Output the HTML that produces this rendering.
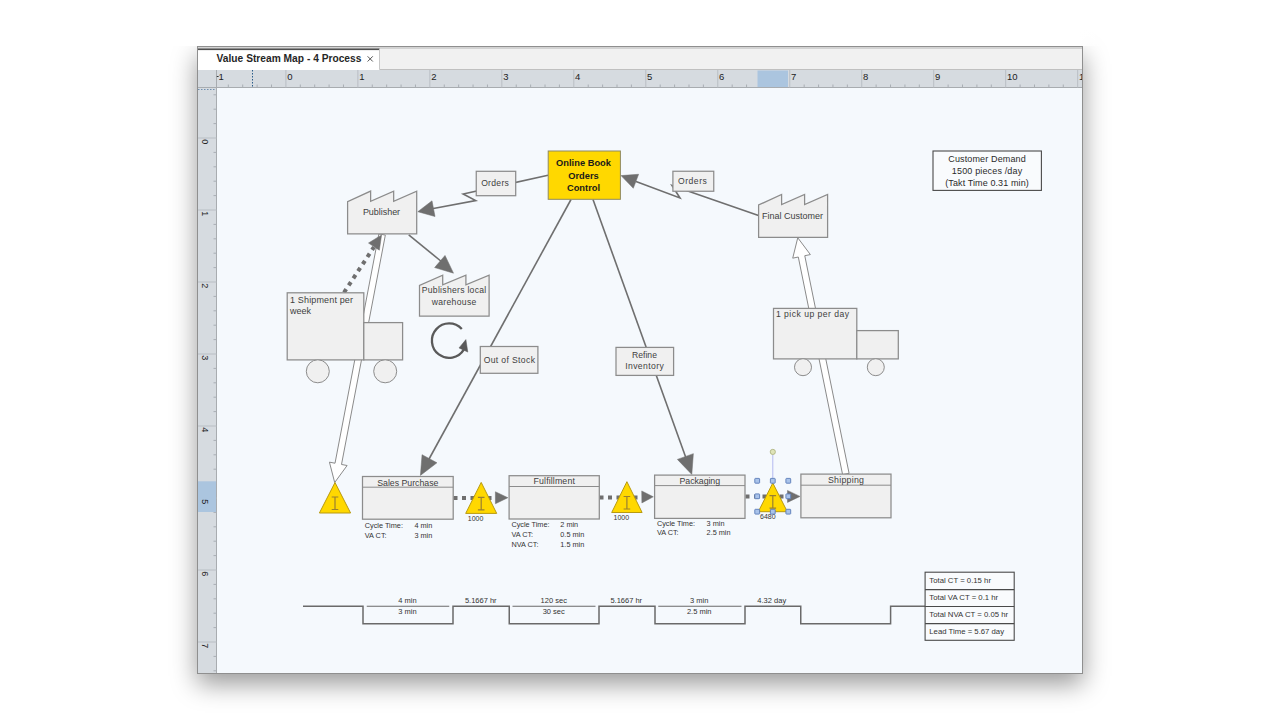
<!DOCTYPE html>
<html><head><meta charset="utf-8">
<style>
html,body{margin:0;padding:0;background:#ffffff;font-family:"Liberation Sans", sans-serif;width:1280px;height:720px;overflow:hidden}
#win{position:absolute;left:197px;top:46px;width:884px;height:626px;border:1px solid #8f8f8f;box-shadow:0 10px 24px rgba(0,0,0,0.4);background:#f5f9fd}
svg{position:absolute;left:0;top:0}
</style></head><body>
<div id="win"></div>
<div style="position:absolute;left:0;top:0;width:1280px;height:46px;background:linear-gradient(to right,#fff 0,#fff 1080px,rgba(255,255,255,0) 1110px)"></div>
<svg width="1280" height="720" viewBox="0 0 1280 720" font-family="&quot;Liberation Sans&quot;, sans-serif">
<!-- tab bar -->
<rect x="198" y="47" width="884" height="22.5" fill="#f1f1f1"/>
<rect x="198" y="47" width="884" height="2" fill="#d3d3d3"/>
<rect x="198" y="49" width="181.5" height="21" fill="#ffffff"/>
<rect x="198" y="48.5" width="181.5" height="1.6" fill="#505050"/>
<line x1="379.5" y1="49" x2="379.5" y2="69.5" stroke="#c8c8c8" stroke-width="1"/>
<line x1="379.5" y1="69.5" x2="1082" y2="69.5" stroke="#c0c0c0" stroke-width="1"/>
<text x="216.6" y="61.7" font-size="10.2" font-weight="bold" fill="#262626" textLength="144.8" lengthAdjust="spacing">Value Stream Map - 4 Process</text>
<path d="M367.6,56.3 L372.8,61.5 M372.8,56.3 L367.6,61.5" stroke="#555" stroke-width="1"/>
<defs><clipPath id="rc"><rect x="198" y="47" width="884" height="626"/></clipPath></defs>
<g clip-path="url(#rc)">
<!-- rulers -->
<rect x="198" y="70" width="884" height="17.5" fill="#d6dbe0"/>
<rect x="198" y="70" width="18.5" height="603" fill="#d6dbe0"/>
<line x1="198" y1="87.5" x2="1082" y2="87.5" stroke="#a8acb0" stroke-width="1"/>
<line x1="216.5" y1="70" x2="216.5" y2="673" stroke="#a8acb0" stroke-width="1"/>
<line x1="216.8" y1="76.5" x2="218.6" y2="76.5" stroke="#333" stroke-width="1"/>
<line x1="228.32" y1="84.5" x2="228.32" y2="87.5" stroke="#a9aeb4" stroke-width="1"/>
<line x1="242.71" y1="84.5" x2="242.71" y2="87.5" stroke="#a9aeb4" stroke-width="1"/>
<line x1="257.11" y1="84.5" x2="257.11" y2="87.5" stroke="#a9aeb4" stroke-width="1"/>
<line x1="271.50" y1="84.5" x2="271.50" y2="87.5" stroke="#a9aeb4" stroke-width="1"/>
<line x1="285.90" y1="70" x2="285.90" y2="87.5" stroke="#b9bec4" stroke-width="1"/>
<line x1="300.30" y1="84.5" x2="300.30" y2="87.5" stroke="#a9aeb4" stroke-width="1"/>
<line x1="314.69" y1="84.5" x2="314.69" y2="87.5" stroke="#a9aeb4" stroke-width="1"/>
<line x1="329.09" y1="84.5" x2="329.09" y2="87.5" stroke="#a9aeb4" stroke-width="1"/>
<line x1="343.48" y1="84.5" x2="343.48" y2="87.5" stroke="#a9aeb4" stroke-width="1"/>
<line x1="357.88" y1="70" x2="357.88" y2="87.5" stroke="#b9bec4" stroke-width="1"/>
<line x1="372.28" y1="84.5" x2="372.28" y2="87.5" stroke="#a9aeb4" stroke-width="1"/>
<line x1="386.67" y1="84.5" x2="386.67" y2="87.5" stroke="#a9aeb4" stroke-width="1"/>
<line x1="401.07" y1="84.5" x2="401.07" y2="87.5" stroke="#a9aeb4" stroke-width="1"/>
<line x1="415.46" y1="84.5" x2="415.46" y2="87.5" stroke="#a9aeb4" stroke-width="1"/>
<line x1="429.86" y1="70" x2="429.86" y2="87.5" stroke="#b9bec4" stroke-width="1"/>
<line x1="444.26" y1="84.5" x2="444.26" y2="87.5" stroke="#a9aeb4" stroke-width="1"/>
<line x1="458.65" y1="84.5" x2="458.65" y2="87.5" stroke="#a9aeb4" stroke-width="1"/>
<line x1="473.05" y1="84.5" x2="473.05" y2="87.5" stroke="#a9aeb4" stroke-width="1"/>
<line x1="487.44" y1="84.5" x2="487.44" y2="87.5" stroke="#a9aeb4" stroke-width="1"/>
<line x1="501.84" y1="70" x2="501.84" y2="87.5" stroke="#b9bec4" stroke-width="1"/>
<line x1="516.24" y1="84.5" x2="516.24" y2="87.5" stroke="#a9aeb4" stroke-width="1"/>
<line x1="530.63" y1="84.5" x2="530.63" y2="87.5" stroke="#a9aeb4" stroke-width="1"/>
<line x1="545.03" y1="84.5" x2="545.03" y2="87.5" stroke="#a9aeb4" stroke-width="1"/>
<line x1="559.42" y1="84.5" x2="559.42" y2="87.5" stroke="#a9aeb4" stroke-width="1"/>
<line x1="573.82" y1="70" x2="573.82" y2="87.5" stroke="#b9bec4" stroke-width="1"/>
<line x1="588.22" y1="84.5" x2="588.22" y2="87.5" stroke="#a9aeb4" stroke-width="1"/>
<line x1="602.61" y1="84.5" x2="602.61" y2="87.5" stroke="#a9aeb4" stroke-width="1"/>
<line x1="617.01" y1="84.5" x2="617.01" y2="87.5" stroke="#a9aeb4" stroke-width="1"/>
<line x1="631.40" y1="84.5" x2="631.40" y2="87.5" stroke="#a9aeb4" stroke-width="1"/>
<line x1="645.80" y1="70" x2="645.80" y2="87.5" stroke="#b9bec4" stroke-width="1"/>
<line x1="660.20" y1="84.5" x2="660.20" y2="87.5" stroke="#a9aeb4" stroke-width="1"/>
<line x1="674.59" y1="84.5" x2="674.59" y2="87.5" stroke="#a9aeb4" stroke-width="1"/>
<line x1="688.99" y1="84.5" x2="688.99" y2="87.5" stroke="#a9aeb4" stroke-width="1"/>
<line x1="703.38" y1="84.5" x2="703.38" y2="87.5" stroke="#a9aeb4" stroke-width="1"/>
<line x1="717.78" y1="70" x2="717.78" y2="87.5" stroke="#b9bec4" stroke-width="1"/>
<line x1="732.18" y1="84.5" x2="732.18" y2="87.5" stroke="#a9aeb4" stroke-width="1"/>
<line x1="746.57" y1="84.5" x2="746.57" y2="87.5" stroke="#a9aeb4" stroke-width="1"/>
<line x1="760.97" y1="84.5" x2="760.97" y2="87.5" stroke="#a9aeb4" stroke-width="1"/>
<line x1="775.36" y1="84.5" x2="775.36" y2="87.5" stroke="#a9aeb4" stroke-width="1"/>
<line x1="789.76" y1="70" x2="789.76" y2="87.5" stroke="#b9bec4" stroke-width="1"/>
<line x1="804.16" y1="84.5" x2="804.16" y2="87.5" stroke="#a9aeb4" stroke-width="1"/>
<line x1="818.55" y1="84.5" x2="818.55" y2="87.5" stroke="#a9aeb4" stroke-width="1"/>
<line x1="832.95" y1="84.5" x2="832.95" y2="87.5" stroke="#a9aeb4" stroke-width="1"/>
<line x1="847.34" y1="84.5" x2="847.34" y2="87.5" stroke="#a9aeb4" stroke-width="1"/>
<line x1="861.74" y1="70" x2="861.74" y2="87.5" stroke="#b9bec4" stroke-width="1"/>
<line x1="876.14" y1="84.5" x2="876.14" y2="87.5" stroke="#a9aeb4" stroke-width="1"/>
<line x1="890.53" y1="84.5" x2="890.53" y2="87.5" stroke="#a9aeb4" stroke-width="1"/>
<line x1="904.93" y1="84.5" x2="904.93" y2="87.5" stroke="#a9aeb4" stroke-width="1"/>
<line x1="919.32" y1="84.5" x2="919.32" y2="87.5" stroke="#a9aeb4" stroke-width="1"/>
<line x1="933.72" y1="70" x2="933.72" y2="87.5" stroke="#b9bec4" stroke-width="1"/>
<line x1="948.12" y1="84.5" x2="948.12" y2="87.5" stroke="#a9aeb4" stroke-width="1"/>
<line x1="962.51" y1="84.5" x2="962.51" y2="87.5" stroke="#a9aeb4" stroke-width="1"/>
<line x1="976.91" y1="84.5" x2="976.91" y2="87.5" stroke="#a9aeb4" stroke-width="1"/>
<line x1="991.30" y1="84.5" x2="991.30" y2="87.5" stroke="#a9aeb4" stroke-width="1"/>
<line x1="1005.70" y1="70" x2="1005.70" y2="87.5" stroke="#b9bec4" stroke-width="1"/>
<line x1="1020.10" y1="84.5" x2="1020.10" y2="87.5" stroke="#a9aeb4" stroke-width="1"/>
<line x1="1034.49" y1="84.5" x2="1034.49" y2="87.5" stroke="#a9aeb4" stroke-width="1"/>
<line x1="1048.89" y1="84.5" x2="1048.89" y2="87.5" stroke="#a9aeb4" stroke-width="1"/>
<line x1="1063.28" y1="84.5" x2="1063.28" y2="87.5" stroke="#a9aeb4" stroke-width="1"/>
<line x1="1077.68" y1="70" x2="1077.68" y2="87.5" stroke="#b9bec4" stroke-width="1"/>
<line x1="252.5" y1="70" x2="252.5" y2="87.5" stroke="#2b5c8a" stroke-width="1" stroke-dasharray="1.5 1.5"/>
<line x1="213.5" y1="94.80" x2="216.5" y2="94.80" stroke="#a9aeb4" stroke-width="1"/>
<line x1="213.5" y1="109.20" x2="216.5" y2="109.20" stroke="#a9aeb4" stroke-width="1"/>
<line x1="213.5" y1="123.60" x2="216.5" y2="123.60" stroke="#a9aeb4" stroke-width="1"/>
<line x1="198" y1="138.00" x2="216.5" y2="138.00" stroke="#b9bec4" stroke-width="1"/>
<line x1="213.5" y1="152.40" x2="216.5" y2="152.40" stroke="#a9aeb4" stroke-width="1"/>
<line x1="213.5" y1="166.80" x2="216.5" y2="166.80" stroke="#a9aeb4" stroke-width="1"/>
<line x1="213.5" y1="181.20" x2="216.5" y2="181.20" stroke="#a9aeb4" stroke-width="1"/>
<line x1="213.5" y1="195.60" x2="216.5" y2="195.60" stroke="#a9aeb4" stroke-width="1"/>
<line x1="198" y1="210.00" x2="216.5" y2="210.00" stroke="#b9bec4" stroke-width="1"/>
<line x1="213.5" y1="224.40" x2="216.5" y2="224.40" stroke="#a9aeb4" stroke-width="1"/>
<line x1="213.5" y1="238.80" x2="216.5" y2="238.80" stroke="#a9aeb4" stroke-width="1"/>
<line x1="213.5" y1="253.20" x2="216.5" y2="253.20" stroke="#a9aeb4" stroke-width="1"/>
<line x1="213.5" y1="267.60" x2="216.5" y2="267.60" stroke="#a9aeb4" stroke-width="1"/>
<line x1="198" y1="282.00" x2="216.5" y2="282.00" stroke="#b9bec4" stroke-width="1"/>
<line x1="213.5" y1="296.40" x2="216.5" y2="296.40" stroke="#a9aeb4" stroke-width="1"/>
<line x1="213.5" y1="310.80" x2="216.5" y2="310.80" stroke="#a9aeb4" stroke-width="1"/>
<line x1="213.5" y1="325.20" x2="216.5" y2="325.20" stroke="#a9aeb4" stroke-width="1"/>
<line x1="213.5" y1="339.60" x2="216.5" y2="339.60" stroke="#a9aeb4" stroke-width="1"/>
<line x1="198" y1="354.00" x2="216.5" y2="354.00" stroke="#b9bec4" stroke-width="1"/>
<line x1="213.5" y1="368.40" x2="216.5" y2="368.40" stroke="#a9aeb4" stroke-width="1"/>
<line x1="213.5" y1="382.80" x2="216.5" y2="382.80" stroke="#a9aeb4" stroke-width="1"/>
<line x1="213.5" y1="397.20" x2="216.5" y2="397.20" stroke="#a9aeb4" stroke-width="1"/>
<line x1="213.5" y1="411.60" x2="216.5" y2="411.60" stroke="#a9aeb4" stroke-width="1"/>
<line x1="198" y1="426.00" x2="216.5" y2="426.00" stroke="#b9bec4" stroke-width="1"/>
<line x1="213.5" y1="440.40" x2="216.5" y2="440.40" stroke="#a9aeb4" stroke-width="1"/>
<line x1="213.5" y1="454.80" x2="216.5" y2="454.80" stroke="#a9aeb4" stroke-width="1"/>
<line x1="213.5" y1="469.20" x2="216.5" y2="469.20" stroke="#a9aeb4" stroke-width="1"/>
<line x1="213.5" y1="483.60" x2="216.5" y2="483.60" stroke="#a9aeb4" stroke-width="1"/>
<line x1="198" y1="498.00" x2="216.5" y2="498.00" stroke="#b9bec4" stroke-width="1"/>
<line x1="213.5" y1="512.40" x2="216.5" y2="512.40" stroke="#a9aeb4" stroke-width="1"/>
<line x1="213.5" y1="526.80" x2="216.5" y2="526.80" stroke="#a9aeb4" stroke-width="1"/>
<line x1="213.5" y1="541.20" x2="216.5" y2="541.20" stroke="#a9aeb4" stroke-width="1"/>
<line x1="213.5" y1="555.60" x2="216.5" y2="555.60" stroke="#a9aeb4" stroke-width="1"/>
<line x1="198" y1="570.00" x2="216.5" y2="570.00" stroke="#b9bec4" stroke-width="1"/>
<line x1="213.5" y1="584.40" x2="216.5" y2="584.40" stroke="#a9aeb4" stroke-width="1"/>
<line x1="213.5" y1="598.80" x2="216.5" y2="598.80" stroke="#a9aeb4" stroke-width="1"/>
<line x1="213.5" y1="613.20" x2="216.5" y2="613.20" stroke="#a9aeb4" stroke-width="1"/>
<line x1="213.5" y1="627.60" x2="216.5" y2="627.60" stroke="#a9aeb4" stroke-width="1"/>
<line x1="198" y1="642.00" x2="216.5" y2="642.00" stroke="#b9bec4" stroke-width="1"/>
<line x1="213.5" y1="656.40" x2="216.5" y2="656.40" stroke="#a9aeb4" stroke-width="1"/>
<line x1="213.5" y1="670.80" x2="216.5" y2="670.80" stroke="#a9aeb4" stroke-width="1"/>
<line x1="198" y1="89.5" x2="216" y2="89.5" stroke="#6f8fb0" stroke-width="1.2" stroke-dasharray="1.5 1.5"/>
<rect x="757.5" y="70.5" width="30.5" height="16.5" fill="#abc5df"/>
<rect x="198" y="481.3" width="18" height="30.7" fill="#abc5df"/>
<text x="218.6" y="79.6" font-size="9.5" fill="#222">1</text>
<text x="287.20" y="79.6" font-size="9.5" fill="#222">0</text>
<text x="359.18" y="79.6" font-size="9.5" fill="#222">1</text>
<text x="431.16" y="79.6" font-size="9.5" fill="#222">2</text>
<text x="503.14" y="79.6" font-size="9.5" fill="#222">3</text>
<text x="575.12" y="79.6" font-size="9.5" fill="#222">4</text>
<text x="647.10" y="79.6" font-size="9.5" fill="#222">5</text>
<text x="719.08" y="79.6" font-size="9.5" fill="#222">6</text>
<text x="791.06" y="79.6" font-size="9.5" fill="#222">7</text>
<text x="863.04" y="79.6" font-size="9.5" fill="#222">8</text>
<text x="935.02" y="79.6" font-size="9.5" fill="#222">9</text>
<text x="1007.00" y="79.6" font-size="9.5" fill="#222">10</text>
<text x="1078.98" y="79.6" font-size="9.5" fill="#222">11</text>
<text transform="translate(201.5,139.20) rotate(90)" font-size="9" fill="#222">0</text>
<text transform="translate(201.5,211.20) rotate(90)" font-size="9" fill="#222">1</text>
<text transform="translate(201.5,283.20) rotate(90)" font-size="9" fill="#222">2</text>
<text transform="translate(201.5,355.20) rotate(90)" font-size="9" fill="#222">3</text>
<text transform="translate(201.5,427.20) rotate(90)" font-size="9" fill="#222">4</text>
<text transform="translate(201.5,499.20) rotate(90)" font-size="9" fill="#222">5</text>
<text transform="translate(201.5,571.20) rotate(90)" font-size="9" fill="#222">6</text>
<text transform="translate(201.5,643.20) rotate(90)" font-size="9" fill="#222">7</text>
</g>
<!-- diagram -->
<polygon points="378.86,233.88 335.03,463.22 329.43,462.15 334.70,482.50 347.11,465.53 341.51,464.46 385.34,235.12" fill="#ffffff" stroke="#8a8a8a" stroke-width="1" />
<polygon points="849.08,473.34 804.77,255.71 810.36,254.57 797.75,237.75 792.72,258.16 798.31,257.03 842.62,474.66" fill="#ffffff" stroke="#8a8a8a" stroke-width="1" />
<polyline points="571.00,199.50 428.50,460.00" fill="none" stroke="#6f6f6f" stroke-width="1.6" stroke-linejoin="miter" />
<polygon points="420.40,475.40 422.04,454.65 436.96,462.80" fill="#6f6f6f" stroke="#6f6f6f" stroke-width="0.5" />
<polyline points="593.00,199.50 686.00,458.00" fill="none" stroke="#6f6f6f" stroke-width="1.6" stroke-linejoin="miter" />
<polygon points="691.80,474.40 677.37,459.39 693.37,453.64" fill="#6f6f6f" stroke="#6f6f6f" stroke-width="0.5" />
<polyline points="548.00,175.20 463.20,194.00 475.70,200.60 432.00,208.80" fill="none" stroke="#6f6f6f" stroke-width="1.6" stroke-linejoin="miter" />
<polygon points="417.80,211.70 432.01,200.83 435.02,216.54" fill="#6f6f6f" stroke="#6f6f6f" stroke-width="0.5" />
<polyline points="758.50,215.60 672.00,185.40 680.00,198.00 636.00,181.50" fill="none" stroke="#6f6f6f" stroke-width="1.6" stroke-linejoin="miter" />
<polygon points="621.00,175.60 638.62,174.27 633.30,188.29" fill="#6f6f6f" stroke="#6f6f6f" stroke-width="0.5" />
<polyline points="408.75,234.90 442.00,262.00" fill="none" stroke="#6f6f6f" stroke-width="1.6" stroke-linejoin="miter" />
<polygon points="453.50,273.20 434.62,267.57 445.03,255.42" fill="#6f6f6f" stroke="#6f6f6f" stroke-width="0.5" />
<line x1="344" y1="292.5" x2="374" y2="247" stroke="#6f6f6f" stroke-width="4" stroke-dasharray="4 4.5"/>
<polygon points="381.60,234.90 379.35,250.17 368.48,243.04" fill="#6f6f6f" stroke="#6f6f6f" stroke-width="0.5" />
<polygon points="347.60,233.90 347.60,201.70 370.63,191.10 370.63,201.20 393.67,191.10 393.67,201.20 416.70,191.10 416.70,233.90" fill="#f0f0f0" stroke="#8c8c8c" stroke-width="1.25" />
<text x="381.5" y="215" font-size="9" text-anchor="middle" fill="#404040" font-weight="normal" textLength="37.2" lengthAdjust="spacing">Publisher</text>
<polygon points="419.50,316.20 419.50,285.40 442.70,275.10 442.70,284.90 465.90,275.10 465.90,284.90 489.10,275.10 489.10,316.20" fill="#f0f0f0" stroke="#8c8c8c" stroke-width="1.25" />
<text x="454" y="292.6" font-size="8.6" text-anchor="middle" fill="#404040" font-weight="normal" textLength="64.4" lengthAdjust="spacing">Publishers local</text>
<text x="454" y="304.5" font-size="8.6" text-anchor="middle" fill="#404040" font-weight="normal" textLength="44.6" lengthAdjust="spacing">warehouse</text>
<polygon points="758.60,237.30 758.60,205.00 781.60,194.50 781.60,204.50 804.60,194.50 804.60,204.50 827.60,194.50 827.60,237.30" fill="#f0f0f0" stroke="#8c8c8c" stroke-width="1.25" />
<text x="792.6" y="219.1" font-size="9" text-anchor="middle" fill="#404040" font-weight="normal" textLength="61" lengthAdjust="spacing">Final Customer</text>
<rect x="548.2" y="151" width="72.19999999999993" height="48.30000000000001" fill="#ffd800" stroke="#8f8a60" stroke-width="1"/>
<text x="583.5" y="166.3" font-size="9.3" text-anchor="middle" fill="#1a1a1a" font-weight="bold" textLength="55" lengthAdjust="spacing">Online Book</text>
<text x="583.5" y="178.5" font-size="9.3" text-anchor="middle" fill="#1a1a1a" font-weight="bold">Orders</text>
<text x="583.5" y="190.8" font-size="9.3" text-anchor="middle" fill="#1a1a1a" font-weight="bold">Control</text>
<rect x="476.25" y="171.3" width="39.450000000000045" height="24.399999999999977" fill="#f0f0f0" stroke="#8c8c8c" stroke-width="1.25"/>
<text x="495" y="186.2" font-size="8.6" text-anchor="middle" fill="#404040" font-weight="normal" textLength="27.7" lengthAdjust="spacing">Orders</text>
<rect x="672.9" y="171.25" width="40.85000000000002" height="20.0" fill="#f0f0f0" stroke="#8c8c8c" stroke-width="1.25"/>
<text x="692.4" y="183.8" font-size="8.6" text-anchor="middle" fill="#404040" font-weight="normal" textLength="29" lengthAdjust="spacing">Orders</text>
<rect x="480.3" y="346.5" width="57.599999999999966" height="26.80000000000001" fill="#f0f0f0" stroke="#8c8c8c" stroke-width="1.25"/>
<text x="509.3" y="363" font-size="8.6" text-anchor="middle" fill="#404040" font-weight="normal" textLength="51.3" lengthAdjust="spacing">Out of Stock</text>
<rect x="616" y="347.4" width="57.60000000000002" height="28.0" fill="#f0f0f0" stroke="#8c8c8c" stroke-width="1.25"/>
<text x="644.5" y="358.2" font-size="8.6" text-anchor="middle" fill="#404040" font-weight="normal">Refine</text>
<text x="644.5" y="369.4" font-size="8.6" text-anchor="middle" fill="#404040" font-weight="normal" textLength="38.7" lengthAdjust="spacing">Inventory</text>
<path d="M461.8,329.05 A17.2,17.2 0 1,0 463.8,349.6" fill="none" stroke="#5a5a5a" stroke-width="2.3"/>
<polygon points="465.90,339.60 459.00,347.90 467.80,352.10" fill="#5a5a5a" stroke="#5a5a5a" stroke-width="0.5" />
<rect x="287.2" y="292.8" width="76.60000000000002" height="67.09999999999997" fill="#f0f0f0" stroke="#8c8c8c" stroke-width="1.25"/>
<rect x="363.8" y="322.6" width="38.80000000000001" height="37.299999999999955" fill="#f0f0f0" stroke="#8c8c8c" stroke-width="1.25"/>
<circle cx="317.8" cy="371.3" r="11.5" fill="#f0f0f0" stroke="#8c8c8c" stroke-width="1"/>
<circle cx="385.2" cy="371.3" r="11.5" fill="#f0f0f0" stroke="#8c8c8c" stroke-width="1"/>
<text x="290" y="302.5" font-size="9" text-anchor="start" fill="#404040" font-weight="normal" textLength="63" lengthAdjust="spacing">1 Shipment per</text>
<text x="290" y="314.2" font-size="9" text-anchor="start" fill="#404040" font-weight="normal">week</text>
<rect x="773.5" y="308.4" width="83.29999999999995" height="50.5" fill="#f0f0f0" stroke="#8c8c8c" stroke-width="1.25"/>
<rect x="856.8" y="330.6" width="41.5" height="28.299999999999955" fill="#f0f0f0" stroke="#8c8c8c" stroke-width="1.25"/>
<circle cx="803" cy="367.2" r="8.5" fill="#f0f0f0" stroke="#8c8c8c" stroke-width="1"/>
<circle cx="875.8" cy="367.2" r="8.5" fill="#f0f0f0" stroke="#8c8c8c" stroke-width="1"/>
<text x="776" y="316.7" font-size="8.6" text-anchor="start" fill="#404040" font-weight="normal" textLength="73" lengthAdjust="spacing">1 pick up per day</text>
<rect x="933" y="151" width="108.40000000000009" height="39.400000000000006" fill="#f9fbfd" stroke="#4a4a4a" stroke-width="1.1"/>
<text x="987" y="162.4" font-size="9" text-anchor="middle" fill="#2a2a2a" font-weight="normal" textLength="77.4" lengthAdjust="spacing">Customer Demand</text>
<text x="987" y="174.3" font-size="9" text-anchor="middle" fill="#2a2a2a" font-weight="normal" textLength="70.3" lengthAdjust="spacing">1500 pieces /day</text>
<text x="987" y="186" font-size="9" text-anchor="middle" fill="#2a2a2a" font-weight="normal" textLength="83.5" lengthAdjust="spacing">(Takt Time 0.31 min)</text>
<line x1="453.5" y1="497.9" x2="496" y2="497.9" stroke="#6f6f6f" stroke-width="4" stroke-dasharray="4 4.5"/>
<polygon points="507.90,497.70 495.42,503.75 495.38,491.75" fill="#6f6f6f" stroke="#6f6f6f" stroke-width="0.5" />
<line x1="599.5" y1="497.5" x2="642" y2="497.5" stroke="#6f6f6f" stroke-width="4" stroke-dasharray="4 4.5"/>
<polygon points="653.30,496.80 641.88,502.95 641.72,490.95" fill="#6f6f6f" stroke="#6f6f6f" stroke-width="0.5" />
<line x1="745.5" y1="496.5" x2="788" y2="496.5" stroke="#6f6f6f" stroke-width="4" stroke-dasharray="4 4.5"/>
<polygon points="800.00,496.40 787.51,502.42 787.49,490.42" fill="#6f6f6f" stroke="#6f6f6f" stroke-width="0.5" />
<rect x="362.5" y="476.5" width="90.69999999999999" height="42.700000000000045" fill="#f0f0f0" stroke="#8c8c8c" stroke-width="1.25"/>
<line x1="362.5" y1="487.2" x2="453.2" y2="487.2" stroke="#8c8c8c" stroke-width="1"/>
<text x="407.85" y="485.6" font-size="8.8" text-anchor="middle" fill="#404040" font-weight="normal" textLength="61.2" lengthAdjust="spacing">Sales Purchase</text>
<text x="364.8" y="527.8" font-size="7.3" text-anchor="start" fill="#333" font-weight="normal">Cycle Time:</text>
<text x="414.4" y="527.8" font-size="7.3" text-anchor="start" fill="#333" font-weight="normal">4 min</text>
<text x="364.8" y="537.5" font-size="7.3" text-anchor="start" fill="#333" font-weight="normal">VA CT:</text>
<text x="414.4" y="537.5" font-size="7.3" text-anchor="start" fill="#333" font-weight="normal">3 min</text>
<rect x="509.1" y="475.7" width="90.19999999999993" height="43.30000000000001" fill="#f0f0f0" stroke="#8c8c8c" stroke-width="1.25"/>
<line x1="509.1" y1="486.5" x2="599.3" y2="486.5" stroke="#8c8c8c" stroke-width="1"/>
<text x="554.2" y="484.4" font-size="8.8" text-anchor="middle" fill="#404040" font-weight="normal" textLength="41.3" lengthAdjust="spacing">Fulfillment</text>
<text x="511.40000000000003" y="526.9" font-size="7.3" text-anchor="start" fill="#333" font-weight="normal">Cycle Time:</text>
<text x="560.3" y="526.9" font-size="7.3" text-anchor="start" fill="#333" font-weight="normal">2 min</text>
<text x="511.40000000000003" y="537" font-size="7.3" text-anchor="start" fill="#333" font-weight="normal">VA CT:</text>
<text x="560.3" y="537" font-size="7.3" text-anchor="start" fill="#333" font-weight="normal">0.5 min</text>
<text x="511.40000000000003" y="546.7" font-size="7.3" text-anchor="start" fill="#333" font-weight="normal">NVA CT:</text>
<text x="560.3" y="546.7" font-size="7.3" text-anchor="start" fill="#333" font-weight="normal">1.5 min</text>
<rect x="654.6" y="475.1" width="90.39999999999998" height="43.299999999999955" fill="#f0f0f0" stroke="#8c8c8c" stroke-width="1.25"/>
<line x1="654.6" y1="485.6" x2="745" y2="485.6" stroke="#8c8c8c" stroke-width="1"/>
<text x="699.8" y="483.7" font-size="8.8" text-anchor="middle" fill="#404040" font-weight="normal" textLength="40.6" lengthAdjust="spacing">Packaging</text>
<text x="656.9" y="525.9" font-size="7.3" text-anchor="start" fill="#333" font-weight="normal">Cycle Time:</text>
<text x="706.6" y="525.9" font-size="7.3" text-anchor="start" fill="#333" font-weight="normal">3 min</text>
<text x="656.9" y="535.4" font-size="7.3" text-anchor="start" fill="#333" font-weight="normal">VA CT:</text>
<text x="706.6" y="535.4" font-size="7.3" text-anchor="start" fill="#333" font-weight="normal">2.5 min</text>
<rect x="800.9" y="474.1" width="90.10000000000002" height="43.69999999999993" fill="#f0f0f0" stroke="#8c8c8c" stroke-width="1.25"/>
<line x1="800.9" y1="485.2" x2="891" y2="485.2" stroke="#8c8c8c" stroke-width="1"/>
<text x="845.95" y="482.6" font-size="8.8" text-anchor="middle" fill="#404040" font-weight="normal" textLength="36" lengthAdjust="spacing">Shipping</text>
<polygon points="335.00,482.50 319.40,513.00 350.60,513.00" fill="#ffd800" stroke="#b89a10" stroke-width="1" />
<path d="M331.7,497 H338.3 M335,497 V509.5 M331.7,509.5 H338.3" stroke="#9a8030" stroke-width="1.2" fill="none"/>
<polygon points="481.20,482.40 465.70,513.40 496.70,513.40" fill="#ffd800" stroke="#b89a10" stroke-width="1" />
<path d="M477.9,497.4 H484.5 M481.2,497.4 V509.9 M477.9,509.9 H484.5" stroke="#9a8030" stroke-width="1.2" fill="none"/>
<text x="467.8" y="521.4" font-size="7" text-anchor="start" fill="#333" font-weight="normal">1000</text>
<polygon points="626.90,481.70 611.70,512.50 642.10,512.50" fill="#ffd800" stroke="#b89a10" stroke-width="1" />
<path d="M623.6,496.5 H630.1999999999999 M626.9,496.5 V509.0 M623.6,509.0 H630.1999999999999" stroke="#9a8030" stroke-width="1.2" fill="none"/>
<text x="613.5" y="520.4" font-size="7" text-anchor="start" fill="#333" font-weight="normal">1000</text>
<polygon points="772.80,483.00 758.30,511.70 787.30,511.70" fill="#ffd800" stroke="#b89a10" stroke-width="1" />
<path d="M769.5,495.7 H776.0999999999999 M772.8,495.7 V508.2 M769.5,508.2 H776.0999999999999" stroke="#9a8030" stroke-width="1.2" fill="none"/>
<text x="760" y="519.2" font-size="7" text-anchor="start" fill="#333" font-weight="normal">6480</text>
<line x1="772.8" y1="454.5" x2="772.8" y2="478.5" stroke="#b4baf0" stroke-width="1"/>
<circle cx="772.8" cy="451.9" r="2.6" fill="#dfe4b8" stroke="#a9ae7a" stroke-width="0.8"/>
<rect x="754.8000000000001" y="478.40000000000003" width="4.8" height="4.8" rx="0.6" fill="#a9c3ea" stroke="#5a7cb8" stroke-width="0.9"/>
<rect x="754.8000000000001" y="493.90000000000003" width="4.8" height="4.8" rx="0.6" fill="#a9c3ea" stroke="#5a7cb8" stroke-width="0.9"/>
<rect x="754.8000000000001" y="509.3" width="4.8" height="4.8" rx="0.6" fill="#a9c3ea" stroke="#5a7cb8" stroke-width="0.9"/>
<rect x="770.4" y="478.40000000000003" width="4.8" height="4.8" rx="0.6" fill="#a9c3ea" stroke="#5a7cb8" stroke-width="0.9"/>
<rect x="770.4" y="509.3" width="4.8" height="4.8" rx="0.6" fill="#a9c3ea" stroke="#5a7cb8" stroke-width="0.9"/>
<rect x="785.9" y="478.40000000000003" width="4.8" height="4.8" rx="0.6" fill="#a9c3ea" stroke="#5a7cb8" stroke-width="0.9"/>
<rect x="785.9" y="493.90000000000003" width="4.8" height="4.8" rx="0.6" fill="#a9c3ea" stroke="#5a7cb8" stroke-width="0.9"/>
<rect x="785.9" y="509.3" width="4.8" height="4.8" rx="0.6" fill="#a9c3ea" stroke="#5a7cb8" stroke-width="0.9"/>
<polyline points="303.00,606.25 363.00,606.25 363.00,623.75 453.00,623.75 453.00,606.25 509.25,606.25 509.25,623.75 599.00,623.75 599.00,606.25 655.00,606.25 655.00,623.75 745.00,623.75 745.00,606.25 800.75,606.25 800.75,623.75 890.60,623.75 890.60,606.25 925.00,606.25" fill="none" stroke="#6a6a6a" stroke-width="1.5" stroke-linejoin="miter" />
<line x1="366.75" y1="606.25" x2="449.25" y2="606.25" stroke="#6a6a6a" stroke-width="1.2"/>
<line x1="512.5" y1="606.25" x2="595.5" y2="606.25" stroke="#6a6a6a" stroke-width="1.2"/>
<line x1="658.25" y1="606.25" x2="741.5" y2="606.25" stroke="#6a6a6a" stroke-width="1.2"/>
<text x="407.5" y="603" font-size="7.5" text-anchor="middle" fill="#333" font-weight="normal">4 min</text>
<text x="480.75" y="603" font-size="7.5" text-anchor="middle" fill="#333" font-weight="normal">5.1667 hr</text>
<text x="553.75" y="603" font-size="7.5" text-anchor="middle" fill="#333" font-weight="normal">120 sec</text>
<text x="626.25" y="603" font-size="7.5" text-anchor="middle" fill="#333" font-weight="normal">5.1667 hr</text>
<text x="699.25" y="603" font-size="7.5" text-anchor="middle" fill="#333" font-weight="normal">3 min</text>
<text x="771.75" y="603" font-size="7.5" text-anchor="middle" fill="#333" font-weight="normal">4.32 day</text>
<text x="407.5" y="613.6" font-size="7.5" text-anchor="middle" fill="#333" font-weight="normal">3 min</text>
<text x="553.75" y="613.6" font-size="7.5" text-anchor="middle" fill="#333" font-weight="normal">30 sec</text>
<text x="699.25" y="613.6" font-size="7.5" text-anchor="middle" fill="#333" font-weight="normal">2.5 min</text>
<rect x="925.1" y="572.2" width="89.10000000000002" height="68.09999999999991" fill="#f9fbfd" stroke="#4a4a4a" stroke-width="1.1"/>
<line x1="925.1" y1="589.6" x2="1014.2" y2="589.6" stroke="#4a4a4a" stroke-width="1.1"/>
<line x1="925.1" y1="606.5" x2="1014.2" y2="606.5" stroke="#4a4a4a" stroke-width="1.1"/>
<line x1="925.1" y1="623.6" x2="1014.2" y2="623.6" stroke="#4a4a4a" stroke-width="1.1"/>
<text x="929.3" y="583" font-size="7.75" text-anchor="start" fill="#333" font-weight="normal">Total CT = 0.15 hr</text>
<text x="929.3" y="600" font-size="7.75" text-anchor="start" fill="#333" font-weight="normal">Total VA CT = 0.1 hr</text>
<text x="929.3" y="617" font-size="7.75" text-anchor="start" fill="#333" font-weight="normal">Total NVA CT = 0.05 hr</text>
<text x="929.3" y="634" font-size="7.75" text-anchor="start" fill="#333" font-weight="normal">Lead Time = 5.67 day</text>
</svg>
</body></html>
